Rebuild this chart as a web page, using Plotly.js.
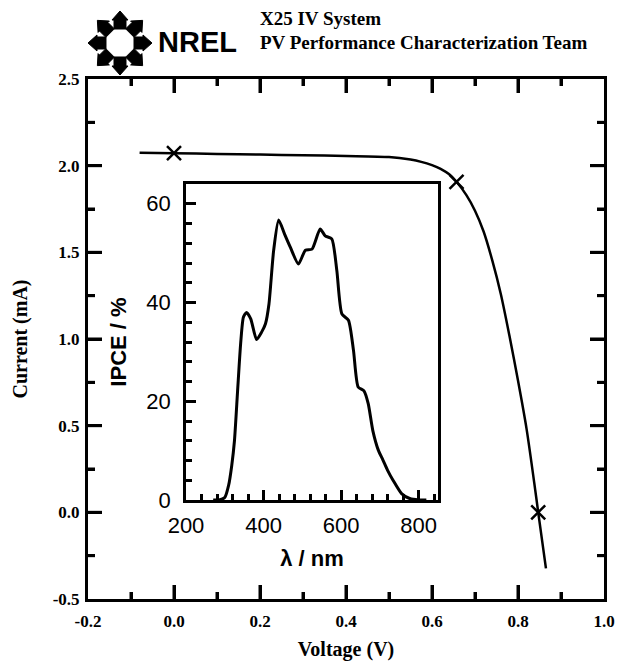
<!DOCTYPE html>
<html>
<head>
<meta charset="utf-8">
<script src="https://cdn.plot.ly/plotly-3.0.1.min.js"></script>
<style>html,body{margin:0;padding:0;background:#fff}#chart{width:618px;height:663px}</style>
</head>
<body>
<div id="chart"></div>
<script>
// ---- I-V curve (main plot) ----
var voltage = [-0.08, 0.0, 0.1, 0.2, 0.3, 0.4, 0.5, 0.55, 0.575, 0.6, 0.62, 0.64, 0.657, 0.68, 0.70, 0.72, 0.74, 0.76, 0.78, 0.80, 0.82, 0.84, 0.847, 0.865];
var current = [2.075, 2.072, 2.068, 2.064, 2.060, 2.056, 2.050, 2.035, 2.022, 2.003, 1.982, 1.950, 1.907, 1.83, 1.74, 1.62, 1.455, 1.26, 1.02, 0.76, 0.48, 0.13, 0.0, -0.323];
// marked points: Isc, max power point, Voc
var markV = [0.0, 0.657, 0.847];
var markI = [2.072, 1.907, 0.0];

// ---- IPCE spectrum (inset) ----
var wavelength = [270, 285, 300, 310, 318, 325, 333, 341, 348, 356, 367, 382, 395, 405, 414, 426, 439, 454, 469, 490, 508, 525, 546, 559, 576, 589, 602, 619, 632, 644, 659, 670, 682, 696, 708, 720, 734, 756, 777, 800, 820];
var ipce = [0, 0, 0.5, 3, 7, 12, 22, 31.7, 37, 38.0, 36.7, 32.5, 34, 35.7, 39.7, 50.5, 56.7, 53.9, 51.2, 47.8, 50.6, 50.8, 54.9, 53.5, 52.9, 46.5, 37.7, 36.4, 30.3, 22.9, 22.1, 19.5, 14, 10.1, 8.1, 6, 4.0, 1.3, 0.3, 0, 0];

// ---- tick labels ----
var xTickVals = [-0.2, 0.0, 0.2, 0.4, 0.6, 0.8, 1.0];
var xTickText = ["-0.2", "0.0", "0.2", "0.4", "0.6", "0.8", "1.0"];
var yTickVals = [-0.5, 0.0, 0.5, 1.0, 1.5, 2.0, 2.5];
var yTickText = ["-0.5", "0.0", "0.5", "1.0", "1.5", "2.0", "2.5"];

// ---- text ----
var headerLine1 = "X25 IV System";
var headerLine2 = "PV Performance Characterization Team";
var logoText = "NREL";
var xTitle = "Voltage (V)";
var yTitle = "Current (mA)";
var insetXTitle = "λ / nm";
var insetYTitle = "IPCE / %";

// ---- geometry helpers (pixel -> paper) ----
var W = 618, H = 663;
var ML = 88, MR = 14, MT = 79, MB = 64;
var PW = W - ML - MR, PH = H - MT - MB;
function px(x) { return (x - ML) / PW; }
function py(y) { return (H - MB - y) / PH; }

var serif = "Liberation Serif, Times New Roman, serif";
var sans = "Liberation Sans, Arial, sans-serif";

var shapes = [];
// NREL logo arrows (8 radial pentagon arrows)
var cx = 120, cy = 43;
for (var k = 0; k < 8; k++) {
  var a = k * Math.PI / 4;
  var ux = Math.cos(a), uy = -Math.sin(a);
  var vx = -uy, vy = ux;
  var pts = [[14, -6], [23, -6], [23, -8], [32, 0], [23, 8], [23, 6], [14, 6]];
  var d = "";
  for (var j = 0; j < pts.length; j++) {
    var r = pts[j][0], w = pts[j][1];
    var X = cx + ux * r + vx * w, Y = cy + uy * r + vy * w;
    d += (j === 0 ? "M" : "L") + px(X).toFixed(5) + "," + py(Y).toFixed(5);
  }
  d += "Z";
  shapes.push({type: "path", xref: "paper", yref: "paper", path: d, fillcolor: "#000", line: {color: "#000", width: 1}});
}

// extra inward tick strokes on the main frame, on the axes' own scales
function seq(start, stop, step) {
  var out = [];
  for (var v = start; v <= stop + step * 1e-6; v += step) out.push(Math.round(v * 1e6) / 1e6);
  return out;
}
seq(-0.1, 0.9, 0.1).forEach(function (v, i) {
  var len = (i % 2 === 1) ? 14 : 7;
  shapes.push({type: "line", xref: "x", yref: "y domain", x0: v, x1: v, ysizemode: "pixel", yanchor: 0, y0: 0, y1: len, line: {color: "#000", width: 3}});
  shapes.push({type: "line", xref: "x", yref: "y domain", x0: v, x1: v, ysizemode: "pixel", yanchor: 1, y0: 0, y1: -len, line: {color: "#000", width: 3}});
});
seq(-0.25, 2.25, 0.25).forEach(function (v, i) {
  var len = (i % 2 === 1) ? 14 : 7;
  shapes.push({type: "line", xref: "x domain", yref: "y", y0: v, y1: v, xsizemode: "pixel", xanchor: 0, x0: 0, x1: len, line: {color: "#000", width: 3}});
  shapes.push({type: "line", xref: "x domain", yref: "y", y0: v, y1: v, xsizemode: "pixel", xanchor: 1, x0: 0, x1: -len, line: {color: "#000", width: 3}});
});

var traces = [
  {x: voltage, y: current, xaxis: "x", yaxis: "y", mode: "lines", line: {color: "#000", width: 2.5, shape: "spline", smoothing: 0.8}},
  {x: markV, y: markI, xaxis: "x", yaxis: "y", mode: "markers", marker: {symbol: "x-thin", size: 14, line: {color: "#000", width: 2.5}}},
  {x: wavelength, y: ipce, xaxis: "x2", yaxis: "y2", mode: "lines", line: {color: "#000", width: 3, shape: "spline", smoothing: 0.6}}
];

var mainTickFont = {family: serif, size: 17, color: "#000", weight: "bold"};
var mainTitleFont = {family: serif, size: 20, color: "#000", weight: "bold"};
var insetTickFont = {family: sans, size: 22, color: "#000"};
var insetTitleFont = {family: sans, size: 22, color: "#000", weight: "bold"};

var layout = {
  width: W, height: H,
  margin: {l: ML, r: MR, t: MT, b: MB},
  showlegend: false,
  xaxis: {
    domain: [0, 1], anchor: "y",
    range: [-0.2, 1.0], tickmode: "array", tickvals: xTickVals, ticktext: xTickText,
    ticks: "inside", ticklen: 14, tickwidth: 3, tickcolor: "#000",
    minor: {tickmode: "linear", tick0: -0.2, dtick: 0.1, ticks: "inside", ticklen: 7, tickwidth: 3, tickcolor: "#000", showgrid: false},
    showline: true, linewidth: 3, linecolor: "#000", mirror: "ticks",
    showgrid: false, zeroline: false,
    tickfont: mainTickFont, ticklabelstandoff: 5,
    title: {text: xTitle, font: mainTitleFont, standoff: 12}
  },
  yaxis: {
    domain: [0, 1], anchor: "x",
    range: [-0.5, 2.5], tickmode: "array", tickvals: yTickVals, ticktext: yTickText,
    ticks: "inside", ticklen: 14, tickwidth: 3, tickcolor: "#000",
    minor: {tickmode: "linear", tick0: -0.5, dtick: 0.25, ticks: "inside", ticklen: 7, tickwidth: 3, tickcolor: "#000", showgrid: false},
    showline: true, linewidth: 3, linecolor: "#000", mirror: "ticks",
    showgrid: false, zeroline: false,
    tickfont: mainTickFont, ticklabelstandoff: 2,
    title: {text: yTitle, font: mainTitleFont, standoff: 20}
  },
  xaxis2: {
    domain: [px(186), px(438)], anchor: "y2",
    range: [200, 850], tick0: 200, dtick: 200,
    ticks: "inside", ticklen: 10, tickwidth: 2.5, tickcolor: "#000",
    minor: {dtick: 40, ticks: "inside", ticklen: 6, tickwidth: 2.5, tickcolor: "#000", showgrid: false},
    showline: true, linewidth: 2.5, linecolor: "#000", mirror: true,
    showgrid: false, zeroline: false,
    tickfont: insetTickFont, ticklabelstandoff: 4,
    title: {text: insetXTitle, font: insetTitleFont, standoff: 14}
  },
  yaxis2: {
    domain: [py(500), py(184)], anchor: "x2",
    range: [0, 64], tick0: 0, dtick: 20,
    ticks: "inside", ticklen: 10, tickwidth: 2.5, tickcolor: "#000",
    minor: {dtick: 4, ticks: "inside", ticklen: 6, tickwidth: 2.5, tickcolor: "#000", showgrid: false},
    showline: true, linewidth: 2.5, linecolor: "#000", mirror: true,
    showgrid: false, zeroline: false,
    tickfont: insetTickFont, ticklabelstandoff: 8,
    title: {text: insetYTitle, font: insetTitleFont, standoff: 14}
  },
  shapes: shapes,
  annotations: [
    {xref: "paper", yref: "paper", x: px(197), y: py(42), text: logoText, showarrow: false, xanchor: "center", yanchor: "middle",
     font: {family: sans, size: 29, color: "#000", weight: "bold"}},
    {xref: "paper", yref: "paper", x: px(258), y: py(19), text: headerLine1, showarrow: false, xanchor: "left", yanchor: "middle",
     font: {family: serif, size: 19, color: "#000", weight: "bold"}},
    {xref: "paper", yref: "paper", x: px(258), y: py(42), text: headerLine2, showarrow: false, xanchor: "left", yanchor: "middle",
     font: {family: serif, size: 19, color: "#000", weight: "bold"}}
  ]
};

Plotly.newPlot("chart", traces, layout, {displayModeBar: false});
</script>
</body>
</html>
